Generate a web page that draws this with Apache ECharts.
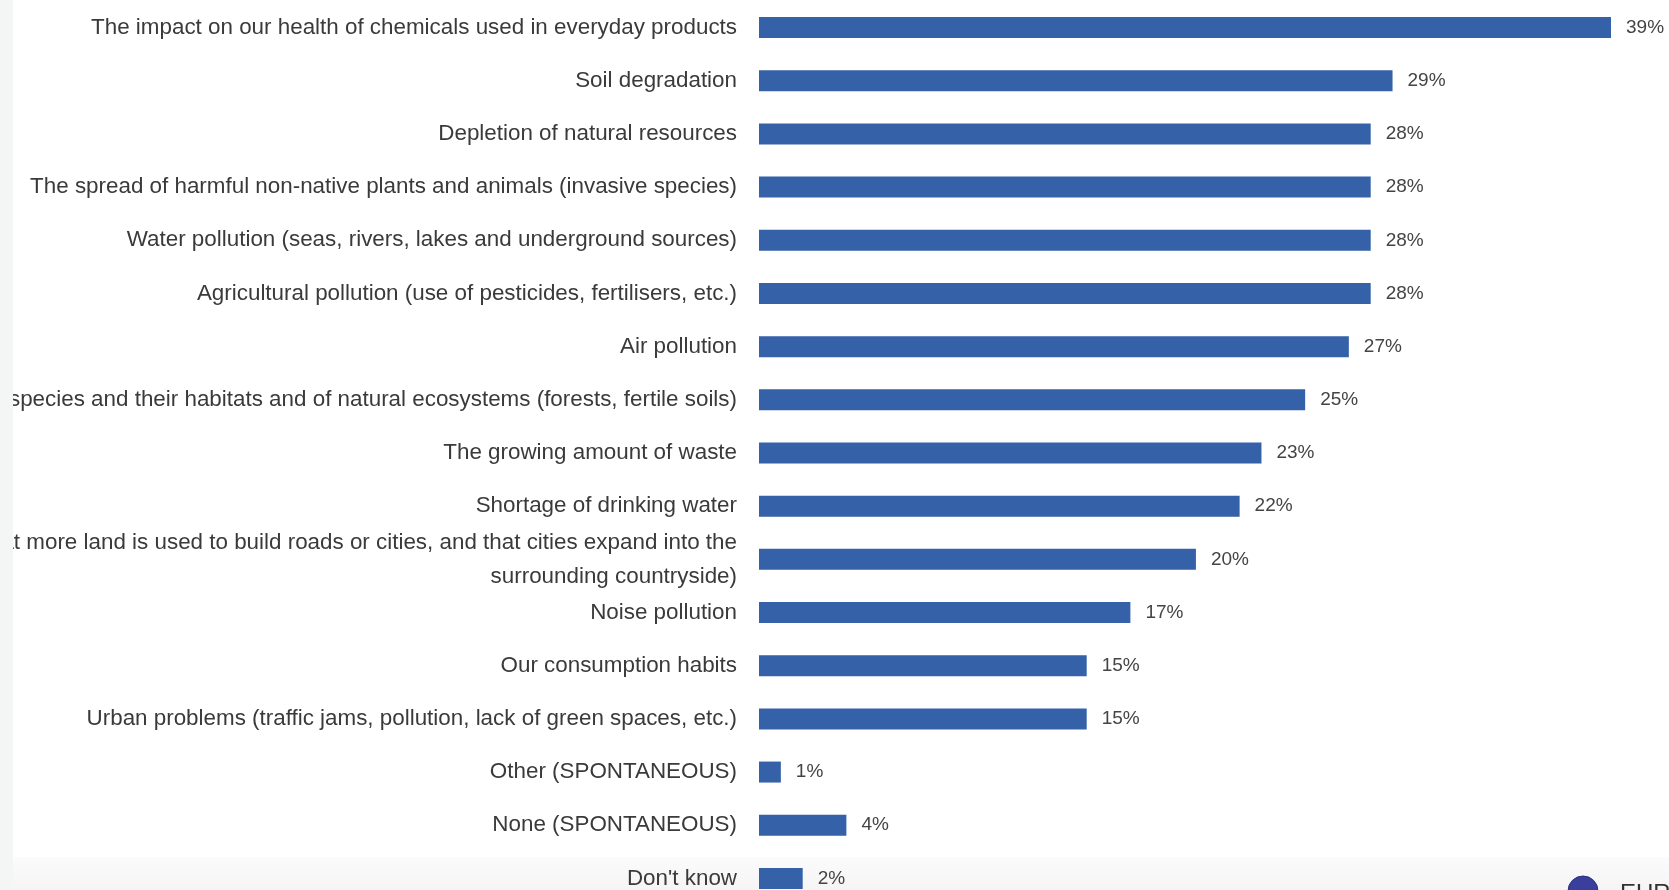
<!DOCTYPE html>
<html>
<head>
<meta charset="utf-8">
<script src="https://cdn.jsdelivr.net/npm/echarts@6/dist/echarts.min.js"></script>
<style>
html,body{margin:0;padding:0;background:#fff;}
#chart{width:1669px;height:890px;}
</style>
</head>
<body>
<div id="chart"></div>
<script>
const categories = [
  "The impact on our health of chemicals used in everyday products",
  "Soil degradation",
  "Depletion of natural resources",
  "The spread of harmful non-native plants and animals (invasive species)",
  "Water pollution (seas, rivers, lakes and underground sources)",
  "Agricultural pollution (use of pesticides, fertilisers, etc.)",
  "Air pollution",
  "The decline or extinction of species and their habitats and of natural ecosystems (forests, fertile soils)",
  "The growing amount of waste",
  "Shortage of drinking water",
  "Urban sprawl (the fact that more land is used to build roads or cities, and that cities expand into the\nsurrounding countryside)",
  "Noise pollution",
  "Our consumption habits",
  "Urban problems (traffic jams, pollution, lack of green spaces, etc.)",
  "Other (SPONTANEOUS)",
  "None (SPONTANEOUS)",
  "Don't know"
];
const values = [39, 29, 28, 28, 28, 28, 27, 25, 23, 22, 20, 17, 15, 15, 1, 4, 2];

const chart = echarts.init(document.getElementById('chart'));
chart.setOption({
  animation: false,
  backgroundColor: '#ffffff',
  grid: { left: 759, top: 1, width: 852, height: 904, containLabel: false, outerBoundsMode: 'none' },
  xAxis: {
    type: 'value', min: 0, max: 39, show: false
  },
  yAxis: {
    type: 'category',
    data: categories,
    inverse: true,
    axisLine: { show: false },
    axisTick: { show: false },
    splitLine: { show: false },
    axisLabel: {
      margin: 22,
      fontFamily: 'Liberation Sans, Arial, sans-serif',
      fontSize: 22.4,
      lineHeight: 34,
      color: '#3a3a3a',
      align: 'right'
    }
  },
  series: [{
    type: 'bar',
    data: values,
    barWidth: 21,
    itemStyle: { color: '#3461a8' },
    label: {
      show: true,
      position: 'right',
      distance: 15,
      formatter: '{c}%',
      fontFamily: 'Liberation Sans, Arial, sans-serif',
      fontSize: 19,
      color: '#444444'
    },
    z: 2
  }],
  graphic: [
    { type: 'rect', z: -10, shape: { x: 0, y: 857, width: 1669, height: 33 },
      style: { fill: new echarts.graphic.LinearGradient(0, 0, 0, 1, [
        { offset: 0, color: '#fbfbfb' }, { offset: 1, color: '#f5f5f5' }]) } },
    { type: 'rect', z: 100, shape: { x: 0, y: 0, width: 13, height: 890 },
      style: { fill: '#f4f6f5' } },
    { type: 'circle', z: 100, shape: { cx: 1583, cy: 891, r: 15 },
      style: { fill: '#3a3f9e', stroke: '#2a2f80', lineWidth: 1 } },
    { type: 'text', z: 100, left: 1620, top: 882,
      style: { text: 'EUROPEAN UNION', fontFamily: 'Liberation Sans, Arial, sans-serif',
               fontSize: 24, fill: '#333333' } }
  ]
});
</script>
</body>
</html>
